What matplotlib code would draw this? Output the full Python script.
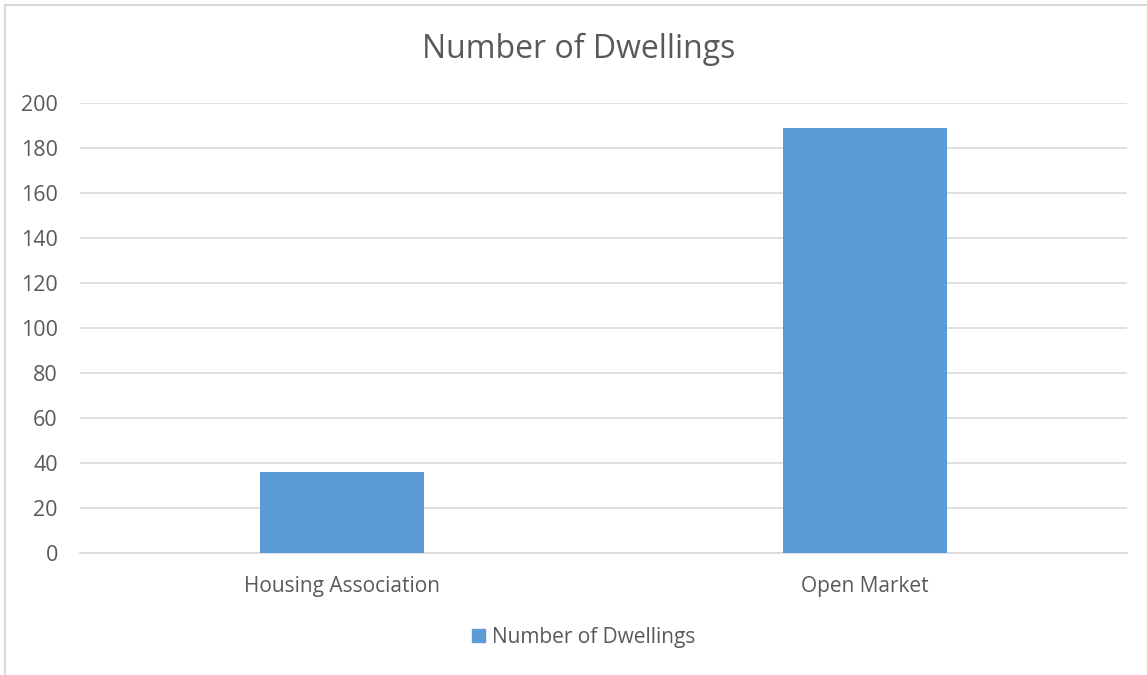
import matplotlib.pyplot as plt
from matplotlib.lines import Line2D
from matplotlib.patches import Patch

categories = ['Housing Association', 'Open Market']
dwellings = [36, 189]
yticks = [0, 20, 40, 60, 80, 100, 120, 140, 160, 180, 200]
series_name = 'Number of Dwellings'

bar_color = '#5b9bd5'
text_color = '#595959'
grid_color = '#d9d9d9'

plt.rcParams['font.family'] = ['Open Sans', 'DejaVu Sans']

W, H = 1147, 675
fig = plt.figure(figsize=(W / 100, H / 100), dpi=100)
ax = fig.add_axes([80 / W, 1 - 553.3 / H, 1047 / W, 450 / H])

x = range(len(categories))
ax.bar(x, dwellings, width=0.313, color=bar_color, zorder=3)

ax.set_xlim(-0.5, 1.5)
ax.set_ylim(0, 200)
ax.set_yticks(yticks)
ax.set_xticks(list(x))
ax.set_xticklabels(categories)
ax.grid(axis='y', color=grid_color, linewidth=1.2, zorder=0)
for s in ['top', 'right', 'left']:
    ax.spines[s].set_visible(False)
ax.spines['bottom'].set_color(grid_color)
ax.spines['bottom'].set_linewidth(1.2)
ax.tick_params(axis='both', length=0, colors=text_color)
ax.tick_params(axis='y', pad=16, labelsize=15.5)
ax.tick_params(axis='x', pad=16, labelsize=15)

# titel
fig.text(579 / W, 1 - 58.5 / H, 'Number of Dwellings', ha='center', va='baseline',
         fontsize=23, color=text_color)

leg = fig.legend(handles=[Patch(color=bar_color, label=series_name)],
                 loc='center', bbox_to_anchor=(584 / W, 1 - 637 / H),
                 frameon=False, fontsize=15, handlelength=0.6, handleheight=0.6,
                 handletextpad=0.35)
for t in leg.get_texts():
    t.set_color(text_color)

# chart border (left and top visible)
fig.add_artist(Line2D([4.5 / W, 4.5 / W], [0, 1 - 4.5 / H], transform=fig.transFigure,
                      color='#d9d9d9', linewidth=1.5))
fig.add_artist(Line2D([4.5 / W, 1], [1 - 4.5 / H, 1 - 4.5 / H], transform=fig.transFigure,
                      color='#d9d9d9', linewidth=1.5))

fig.savefig('out.png', dpi=100)
